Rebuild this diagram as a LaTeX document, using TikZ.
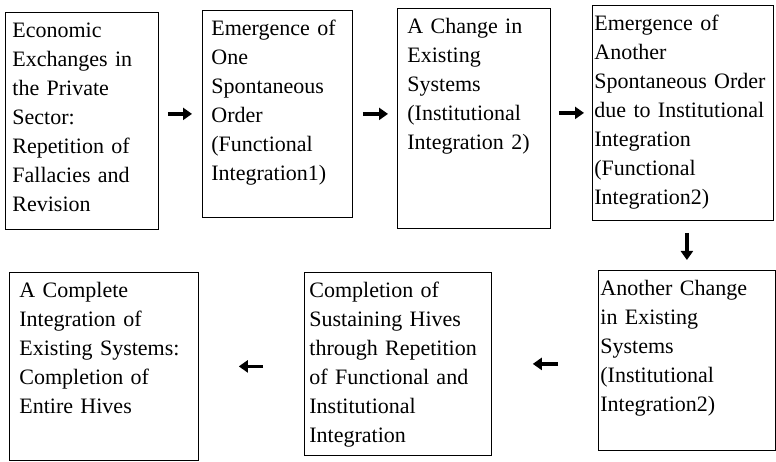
\documentclass[tikz,border=0pt]{standalone}
\usepackage{fontspec}
\setmainfont{Liberation Serif}
\usepackage{tikz}
\usetikzlibrary{arrows.meta,positioning,calc}

\begin{document}
\begin{tikzpicture}[
  x=1pt, y=-1pt,
  every node/.style={font=\fontsize{22}{29}\selectfont},
  stage/.style={draw, line width=0.8pt, anchor=north west, align=left,
             text height=16pt, inner ysep=9pt},
  arr/.style={-{Triangle[length=9pt,width=12pt]}, line width=3.5pt},
]
\useasboundingbox (0,0) rectangle (776,462);

\node[stage, inner xsep=7pt,  text width=139pt, text depth=183pt] (exch) at (5,12)
  {Economic\\Exchanges in\\the Private\\Sector:\\Repetition of\\Fallacies and\\Revision};
\node[stage, inner xsep=9pt,  text width=132pt, text depth=173pt] (ord1) at (202,10)
  {Emergence of\\One\\Spontaneous\\Order\\(Functional\\Integration1)};
\node[stage, inner xsep=10pt, text width=133pt, text depth=186pt] (chg1) at (397,8)
  {A Change in\\Existing\\Systems\\(Institutional\\Integration 2)};
\node[stage, inner xsep=2pt,  text width=177pt, text depth=181pt] (ord2) at (592,5)
  {Emergence of\\Another\\Spontaneous Order\\due to Institutional\\Integration\\(Functional\\Integration2)};
\node[stage, inner xsep=2pt,  text width=173pt, text depth=146pt] (chg2) at (598,270)
  {Another Change\\in Existing\\Systems\\(Institutional\\Integration2)};
\node[stage, inner xsep=5pt,  text width=177pt, text depth=149pt] (sust) at (304,272)
  {Completion of\\Sustaining Hives\\through Repetition\\of Functional and\\Institutional\\Integration};
\node[stage, inner xsep=10pt, text width=169pt, text depth=154pt] (comp) at (9,272)
  {A Complete\\Integration of\\Existing Systems:\\Completion of\\Entire Hives};

\draw[arr, shorten <=9pt, shorten >=10pt] (exch.east |- ord1.west) -- (ord1.west);
\draw[arr, shorten <=10pt, shorten >=9pt] (ord1.east) -- (ord1.east -| chg1.west);
\draw[arr, shorten <=8pt, shorten >=8pt] (chg1.east |- ord2.west) -- (ord2.west);
\draw[arr, shorten <=12pt, shorten >=10pt] (ord2.south -| chg2.north) -- (chg2.north);
\draw[arr, shorten <=40pt, shorten >=41pt] (chg2.west |- sust.east) -- (sust.east);
\draw[arr, shorten <=41pt, shorten >=40pt] (sust.west |- comp.east) -- (comp.east);
\end{tikzpicture}
\end{document}
